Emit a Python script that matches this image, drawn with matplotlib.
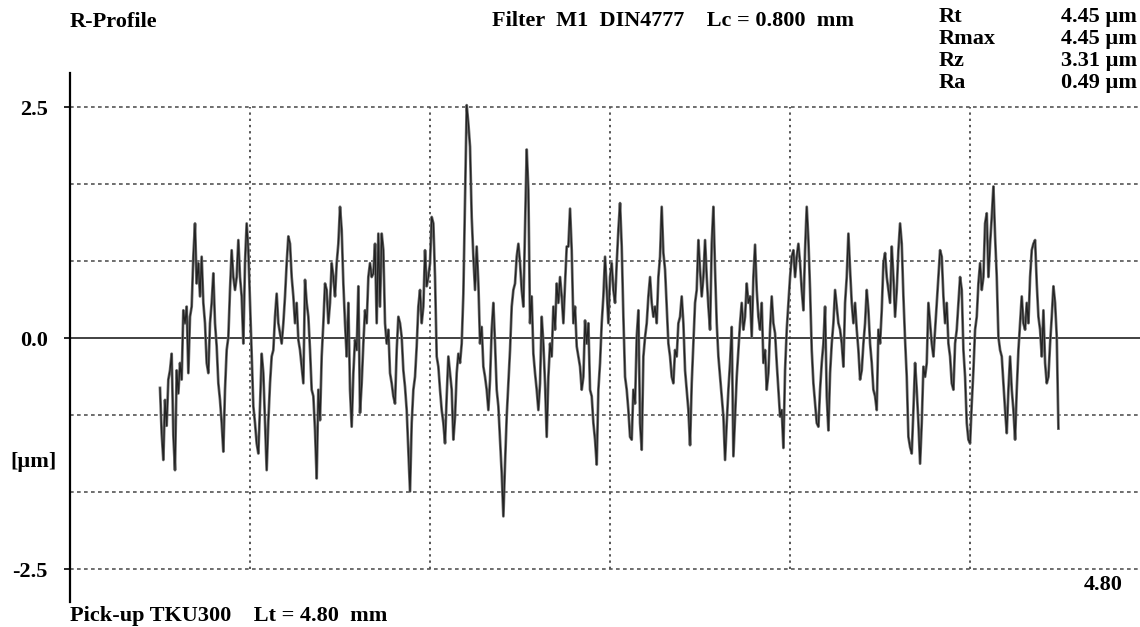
import numpy as np
import matplotlib.pyplot as plt

# R-profile heights [um], evenly sampled along the traverse, split in four runs
z_run1 = [-0.54, -1.03, -1.32, -0.67, -0.95, -0.45, -0.35, -0.17, -1.05, -1.43,
          -0.35, -0.60, -0.27, -0.45, 0.30, 0.16, 0.34, -0.38, 0.23, 0.34,
          0.88, 1.24, 0.59, 0.81, 0.45, 0.88, 0.38, 0.16, -0.27, -0.38,
          0.16, 0.38, 0.70, 0.16, -0.09, -0.49, -0.67, -0.92, -1.23, -0.56,
          -0.13, 0.01, 0.52, 0.95, 0.66, 0.52, 0.66, 1.06, 0.66, 0.45,
          -0.06, 0.81, 1.24, 0.95, 0.38, -0.20, -0.74, -0.92, -1.14, -1.25,
          -0.74, -0.17, -0.38, -0.89, -1.43, -0.90, -0.49, -0.20, -0.13, 0.23,
          0.48, 0.16, 0.05, -0.06, 0.16, 0.45, 0.81, 1.10, 1.02, 0.66,
          0.45, 0.16, 0.38, -0.02, -0.13, -0.31, -0.49, 0.63, 0.38, 0.23,
          -0.13, -0.56, -0.63, -1.00, -1.52, -0.56, -0.89, -0.20, 0.16, 0.59,
          0.52, 0.16, 0.38, 0.81, 0.66, 0.45, 0.81, 1.02, 1.42, 1.17,
          0.59, 0.16, -0.20, 0.38, -0.56, -0.96, -0.38, -0.02, -0.13, 0.56,
          -0.81, -0.49, -0.06, 0.30, 0.16, 0.66, 0.81, 0.66, 0.70]
z_run2 = [1.02, 0.16, 1.13, 0.34, 1.13, 0.95, 0.16, -0.06, 0.09, -0.38,
          -0.49, -0.63, -0.71, -0.13, 0.23, 0.16, 0.01, -0.35, -0.53, -0.78,
          -1.21, -1.66, -0.92, -0.56, -0.42, -0.09, 0.34, 0.52, 0.16, 0.34,
          0.95, 0.56, 0.66, 0.81, 1.31, 1.24, 0.66, -0.20, -0.31, -0.56,
          -0.78, -0.92, -1.14, -0.63, -0.20, -0.38, -0.56, -1.10, -0.85, -0.38,
          -0.17, -0.27, -0.06, 0.48, 1.53, 2.52, 2.32, 2.07, 1.31, 0.88,
          0.52, 0.99, 0.59, -0.06, 0.12, -0.31, -0.42, -0.56, -0.78, -0.45,
          0.09, 0.38, -0.06, -0.56, -0.74, -1.10, -1.46, -1.93, -1.36, -0.85,
          -0.49, -0.13, 0.34, 0.52, 0.59, 0.88, 1.02, 0.81, 0.52, 0.34,
          1.17, 2.04, 1.60, 0.16, 0.45, -0.17, -0.38, -0.56, -0.78, -0.49,
          0.23, -0.06, -0.49, -1.07, -0.42, -0.06, -0.20, 0.34, 0.09, 0.59,
          0.38, 0.66, 0.45, 0.16, 0.59, 0.99, 0.99, 1.40, 0.95, 0.16,
          0.34, -0.09, -0.20, -0.31, -0.56, -0.42, 0.19, -0.06, 0.16, -0.56,
          -0.63, -0.92, -1.10, -1.37, -0.56, -0.27, 0.16, 0.45, 0.88]
z_run3 = [0.52, 0.16, 0.66, 0.81, 0.52, 0.38, 0.81, 1.17, 1.46, 0.99,
          0.23, -0.42, -0.56, -0.78, -1.07, -1.10, -0.56, -0.71, 0.01, 0.30,
          -0.92, -1.21, -0.20, 0.01, 0.16, 0.45, 0.66, 0.38, 0.23, 0.34,
          0.16, 0.66, 0.88, 1.42, 0.92, 0.74, 0.34, -0.06, -0.20, -0.42,
          -0.49, -0.13, -0.20, 0.16, 0.23, 0.45, 0.16, -0.35, -0.56, -0.78,
          -1.16, -0.49, -0.06, 0.38, 0.52, 1.06, 0.74, 0.45, 0.66, 1.06,
          0.66, 0.34, 0.09, 1.02, 1.42, 0.74, 0.16, -0.20, -0.42, -0.63,
          -0.85, -1.32, -0.92, -0.56, -0.27, 0.12, -1.28, -0.85, -0.42, -0.13,
          0.16, 0.38, 0.09, 0.23, 0.59, 0.38, 0.45, 0.01, 0.66, 1.01,
          0.52, 0.23, 0.09, 0.38, -0.27, -0.13, -0.56, -0.38, 0.09, 0.45,
          0.16, 0.05, -0.27, -0.56, -0.85, -0.78, -1.19, -0.35, 0.09, 0.38,
          0.66, 0.88, 0.95, 0.66, 0.88, 1.02, 0.81, 0.52, 0.30, 0.95,
          1.42, 1.06, 0.52, -0.13, -0.49, -0.71, -0.92, -0.96, -0.56, -0.27,
          -0.06]
z_run4 = [0.34, -0.63, -1.00, -0.38, -0.06, 0.16, 0.52, 0.34, 0.16, 0.09,
          -0.06, -0.31, 0.38, 0.66, 1.13, 0.74, 0.38, 0.16, 0.38, 0.09,
          -0.13, -0.45, -0.35, -0.06, 0.16, 0.52, 0.30, -0.06, -0.27, -0.56,
          -0.63, -0.78, 0.09, -0.06, 0.30, 0.81, 0.92, 0.66, 0.52, 0.38,
          0.99, 0.66, 0.23, 0.52, 0.95, 1.24, 1.02, 0.45, -0.02, -0.42,
          -1.07, -1.18, -1.25, -0.78, -0.27, -0.56, -0.92, -1.36, -0.92, -0.31,
          -0.42, -0.27, 0.38, 0.16, -0.06, -0.20, 0.09, 0.38, 0.66, 0.95,
          0.88, 0.45, 0.16, 0.38, -0.06, -0.20, -0.49, -0.56, -0.06, 0.09,
          0.38, 0.66, 0.52, -0.13, -0.42, -0.92, -1.10, -1.14, -0.71, -0.35,
          0.09, 0.23, 0.59, 0.81, 0.52, 0.66, 1.24, 1.35, 0.66, 1.02,
          1.31, 1.64, 1.10, 0.66, 0.01, -0.13, -0.20, -0.49, -0.78, -1.03,
          -0.56, -0.20, -0.56, -0.78, -1.10, -0.56, -0.13, 0.16, 0.45, 0.16,
          0.09, 0.38, 0.16, 0.66, 0.95, 1.02, 1.06, 0.59, 0.23, 0.09,
          -0.20, 0.30, -0.27, -0.49, -0.42, -0.06, 0.23, 0.56, 0.38, 0.01,
          -0.98]

x_first, x_last = 0.40, 4.393      # mm, first and last sample
lt = 4.80                          # traverse length, mm
grid_x = [0.8, 1.6, 2.4, 3.2, 4.0]
grid_y = [-2.5, -5 / 3, -5 / 6, 5 / 6, 5 / 3, 2.5]
ytick_vals = [-2.5, 0.0, 2.5]
ytick_text = ["-2.5", "0.0", "2.5"]
params = [("Rt", "4.45 µm"), ("Rmax", "4.45 µm"), ("Rz", "3.31 µm"), ("Ra", "0.49 µm")]

z = np.array(z_run1 + z_run2 + z_run3 + z_run4)
x = np.linspace(x_first, x_last, len(z))

W, H = 1140, 627
serif = "Liberation Serif"
fs = 16
fig = plt.figure(figsize=(W / 100, H / 100), dpi=100)
ax = fig.add_axes([70 / W, 25 / H, 1080 / W, 529 / H])

ax.hlines(grid_y, 0, lt, colors="#555555", linestyles=(0, (2.2, 2.0)), lw=1.2)
ax.vlines(grid_x, -2.5, 2.5, colors="#555555", linestyles=(0, (1.2, 2.0)), lw=1.4)
ax.axhline(0, color="#333333", lw=1.3)
# grey pass underneath, darker thin pass on top -> stroke texture of the trace
ax.plot(x, z, color="#707070", lw=2.0)
ax.plot(x, z, color="#222222", lw=0.9)

ax.set_xlim(0, lt)
ax.set_ylim(-2.857, 2.868)
for s in ["top", "right", "bottom"]:
    ax.spines[s].set_visible(False)
ax.spines["left"].set_linewidth(1.6)
ax.set_xticks([])
ax.set_yticks(ytick_vals)
ax.set_yticklabels(ytick_text, fontfamily=serif, fontweight="bold", fontsize=fs)
ax.tick_params(axis="y", length=4, width=1.2, pad=12)


def ftext(px, py, s, **kw):
    fig.text(px / W, 1 - py / H, s, fontfamily=serif, fontweight="bold",
             fontsize=fs, va="center", **kw)


ftext(70, 22, "R-Profile")
ftext(492, 21, "Filter  M1  DIN4777    Lc = 0.800  mm")
for i, (name, val) in enumerate(params):
    ftext(939, 17 + 22 * i, name)
    ftext(1137, 17 + 22 * i, val, ha="right")
ftext(10, 462, "[µm]")
ftext(1123, 585, "4.80", ha="right")
ftext(70, 616, "Pick-up TKU300    Lt = 4.80  mm")

fig.savefig("out.png", dpi=100)
